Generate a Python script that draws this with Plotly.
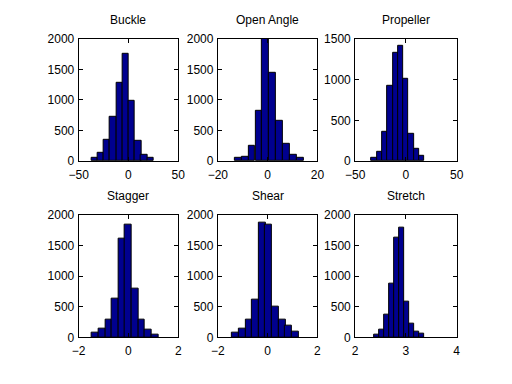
import plotly.graph_objects as go

# ---- data ----
titles = ["Buckle", "Open Angle", "Propeller", "Stagger", "Shear", "Stretch"]

buckle_centers = [-34.1, -27.8, -21.6, -15.3, -9.1, -2.8, 3.4, 9.7, 15.9, 22.2]
buckle_counts = [63, 142, 353, 726, 1289, 1753, 989, 332, 105, 47]

open_angle_centers = [-11.8, -9.1, -6.3, -3.5, -0.8, 2.0, 4.7, 7.5, 10.3, 13.0]
open_angle_counts = [52, 78, 251, 825, 2000, 1446, 653, 287, 104, 63]

propeller_centers = [-31.4, -26.1, -20.9, -15.7, -10.4, -5.2, 0.0, 5.3, 10.5, 15.8]
propeller_counts = [39, 117, 360, 920, 1332, 1410, 1010, 341, 157, 70]

stagger_centers = [-1.33, -1.06, -0.79, -0.53, -0.26, 0.00, 0.27, 0.53, 0.80, 1.07]
stagger_counts = [73, 150, 290, 635, 1610, 1830, 790, 290, 120, 45]

shear_centers = [-1.29, -1.02, -0.75, -0.49, -0.22, 0.04, 0.31, 0.58, 0.84, 1.11]
shear_counts = [73, 141, 293, 613, 1870, 1840, 500, 293, 194, 89]

stretch_centers = [2.42, 2.52, 2.62, 2.72, 2.82, 2.92, 3.02, 3.11, 3.21, 3.31]
stretch_counts = [40, 120, 380, 870, 1630, 1790, 580, 230, 100, 60]

x_ranges = [[-50, 50], [-20, 20], [-50, 50], [-2, 2], [-2, 2], [2, 4]]
x_ticks = [[-50, 0, 50], [-20, 0, 20], [-50, 0, 50], [-2, 0, 2], [-2, 0, 2], [2, 3, 4]]
y_ranges = [[0, 2000], [0, 2000], [0, 1500], [0, 2000], [0, 2000], [0, 2000]]
y_ticks = [[0, 500, 1000, 1500, 2000], [0, 500, 1000, 1500, 2000], [0, 500, 1000, 1500],
           [0, 500, 1000, 1500, 2000], [0, 500, 1000, 1500, 2000], [0, 500, 1000, 1500, 2000]]

series = [
    (buckle_centers, buckle_counts),
    (open_angle_centers, open_angle_counts),
    (propeller_centers, propeller_counts),
    (stagger_centers, stagger_counts),
    (shear_centers, shear_counts),
    (stretch_centers, stretch_counts),
]

# ---- layout geometry (paper fractions) ----
W, H = 512, 384
x_doms = [[71 / W, 174 / W], [215 / W, 318 / W], [357 / W, 462 / W]]
y_doms = [[1 - 160 / H, 1 - 33 / H], [1 - 343 / H, 1 - 215.5 / H]]

FONT = "Liberation Sans, Arial, Helvetica, sans-serif"
BAR = "rgb(0,0,143)"

fig = go.Figure()
layout = {}
annotations = []
for i, (xs, ys) in enumerate(series):
    r, c = divmod(i, 3)
    n = i + 1
    xa = "x" if n == 1 else f"x{n}"
    ya = "y" if n == 1 else f"y{n}"
    width = xs[1] - xs[0]
    fig.add_trace(go.Bar(
        x=xs, y=ys, width=[width] * len(xs),
        marker=dict(color=BAR, line=dict(color="black", width=1)),
        xaxis=xa, yaxis=ya, showlegend=False,
    ))
    axis_common = dict(
        showline=True, linecolor="black", linewidth=1, mirror="ticks",
        ticks="inside", ticklen=4, tickcolor="black", showgrid=False,
        zeroline=False, fixedrange=True,
        tickfont=dict(family=FONT, size=12, color="black"),
    )
    layout["xaxis" if n == 1 else f"xaxis{n}"] = dict(
        domain=x_doms[c], anchor=ya, range=x_ranges[i],
        tickmode="array", tickvals=x_ticks[i], ticklabelstandoff=2,
        **axis_common)
    layout["yaxis" if n == 1 else f"yaxis{n}"] = dict(
        domain=y_doms[r], anchor=xa, range=y_ranges[i],
        tickmode="array", tickvals=y_ticks[i], ticklabelstandoff=1,
        **axis_common)
    annotations.append(dict(
        text=titles[i], xref="paper", yref="paper",
        x=(x_doms[c][0] + x_doms[c][1]) / 2, y=y_doms[r][1],
        yshift=10, xanchor="center", yanchor="bottom", showarrow=False,
        font=dict(family=FONT, size=12, color="black"),
    ))

fig.update_layout(
    width=W, height=H, margin=dict(l=0, r=0, t=0, b=0),
    paper_bgcolor="white", plot_bgcolor="white",
    bargap=0, annotations=annotations, **layout,
)
fig.write_html("out.html", config={"displayModeBar": False},
               post_script="document.body.style.margin='0';document.body.style.padding='0';")
